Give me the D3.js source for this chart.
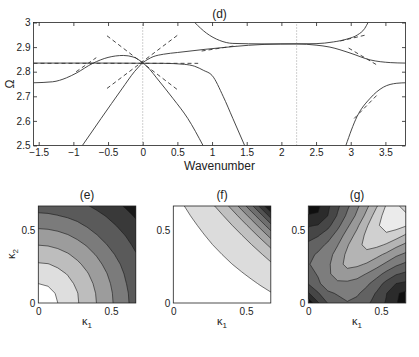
<!DOCTYPE html>
<html>
<head>
<meta charset="utf-8">
<script src="https://cdn.jsdelivr.net/npm/d3@7"></script>
<style>
body { margin: 0; background: #fff; }
svg text { font-family: "Liberation Sans", Arial, sans-serif; fill: #222; }
</style>
</head>
<body>
<svg id="fig" width="419" height="357"></svg>
<script>
// ---- panel (d): dispersion curves ----
var xTicks = [-1.5, -1, -0.5, 0, 0.5, 1, 1.5, 2, 2.5, 3, 3.5];
var xTickLabels = ["\u22121.5", "\u22121", "\u22120.5", "0", "0.5", "1", "1.5", "2", "2.5", "3", "3.5"];
var yTicks = [2.5, 2.6, 2.7, 2.8, 2.9, 3];
var yTickLabels = ["2.5", "2.6", "2.7", "2.8", "2.9", "3"];
var dottedAt = [0, 2.22];

var bandA = [[-1.575, 2.755], [-1.3, 2.759], [-1.1, 2.775], [-0.96, 2.794], [-0.72, 2.834], [-0.5, 2.858], [-0.28, 2.866], [-0.14, 2.86], [0, 2.837]];
var bandB = [[0, 2.837], [0.1, 2.81], [0.2, 2.775], [0.44, 2.69], [0.65, 2.61], [0.87, 2.5]];
var bandC = [[-0.87, 2.5], [-0.6, 2.61], [-0.3, 2.73], [-0.12, 2.8], [0, 2.837]];
var bandD = [[0, 2.837], [0.15, 2.861], [0.3, 2.871], [0.5, 2.878], [0.9, 2.891], [1.3, 2.902], [1.75, 2.911], [2.22, 2.913], [2.5, 2.908], [2.7, 2.9], [2.99, 2.876], [3.28, 2.848], [3.57, 2.837], [3.79, 2.835]];
var bandE = [[0.75, 3.0], [0.918, 2.957], [1.11, 2.927], [1.3, 2.915], [1.75, 2.913], [2.22, 2.913], [2.5, 2.914], [2.75, 2.921], [2.95, 2.933], [3.1, 2.95], [3.2, 2.975], [3.25, 3.0]];
var bandF = [[-1.575, 2.835], [-0.5, 2.835], [0.3, 2.834], [0.6, 2.83], [0.75, 2.822], [0.88, 2.805], [1.0, 2.785], [1.16, 2.7], [1.3, 2.61], [1.47, 2.5]];
var bandG = [[2.93, 2.5], [3.09, 2.617], [3.28, 2.692], [3.47, 2.737], [3.665, 2.753], [3.79, 2.755]];

var dashed = [
  [[-1.575, 2.834], [0.8, 2.834]],
  [[-0.515, 2.946], [0.51, 2.725]],
  [[-0.515, 2.732], [0.51, 2.95]],
  [[-0.96, 2.80], [-0.67, 2.857]],
  [[0.85, 2.884], [1.35, 2.906]],
  [[2.85, 2.925], [3.2, 2.948]],
  [[2.97, 2.896], [3.38, 2.827]],
  [[3.05, 2.61], [3.38, 2.705]]
];

// ---- panels (e), (f), (g): contour grids, rows k2 = 0..0.67, cols k1 = 0..0.67 ----
var kTicks = [0, 0.5];
var kTickLabels = ["0", "0.5"];

var gridE = [
  [0, 0.5, 1, 1.46, 1.92, 2.46, 3.02, 3.60, 4.20, 4.84, 5.37],
  [0.5, 0.71, 1.11, 1.53, 1.97, 2.51, 3.07, 3.64, 4.24, 4.88, 5.39],
  [1, 1.11, 1.38, 1.74, 2.16, 2.67, 3.21, 3.76, 4.36, 4.98, 5.46],
  [1.46, 1.53, 1.74, 2.04, 2.46, 2.92, 3.43, 3.96, 4.55, 5.12, 5.58],
  [1.92, 1.97, 2.16, 2.46, 2.83, 3.25, 3.72, 4.24, 4.80, 5.29, 5.74],
  [2.46, 2.51, 2.67, 2.92, 3.25, 3.64, 4.08, 4.58, 5.09, 5.51, 5.94],
  [3.02, 3.07, 3.21, 3.43, 3.72, 4.08, 4.51, 4.98, 5.37, 5.76, 6.19],
  [3.60, 3.64, 3.76, 3.96, 4.24, 4.58, 4.98, 5.32, 5.67, 6.05, 6.47],
  [4.20, 4.24, 4.36, 4.55, 4.80, 5.09, 5.37, 5.67, 6.01, 6.38, 6.78],
  [4.84, 4.88, 4.98, 5.12, 5.29, 5.51, 5.76, 6.05, 6.38, 6.74, 7.11],
  [5.37, 5.39, 5.46, 5.58, 5.74, 5.94, 6.19, 6.47, 6.78, 7.11, 7.46]
];
var levelsE = [1, 2, 3, 4, 5, 6, 7];

var gridF = [
  [0, 0.10, 0.19, 0.27, 0.34, 0.41, 0.47, 0.53, 0.58, 0.62, 0.65],
  [0.10, 0.20, 0.30, 0.39, 0.47, 0.54, 0.61, 0.67, 0.73, 0.78, 0.96],
  [0.19, 0.30, 0.40, 0.50, 0.59, 0.67, 0.74, 0.81, 0.87, 1.07, 1.27],
  [0.27, 0.39, 0.50, 0.60, 0.70, 0.79, 0.87, 0.94, 1.15, 1.36, 1.56],
  [0.34, 0.47, 0.59, 0.70, 0.80, 0.90, 0.99, 1.21, 1.43, 1.64, 1.85],
  [0.41, 0.54, 0.67, 0.79, 0.90, 1.00, 1.24, 1.48, 1.70, 1.92, 2.47],
  [0.47, 0.61, 0.74, 0.87, 0.99, 1.24, 1.49, 1.73, 1.97, 2.53, 3.27],
  [0.53, 0.67, 0.81, 0.94, 1.21, 1.48, 1.73, 1.98, 2.56, 3.32, 4.41],
  [0.58, 0.73, 0.87, 1.15, 1.43, 1.70, 1.97, 2.56, 3.33, 4.44, 5.70],
  [0.62, 0.78, 1.07, 1.36, 1.64, 1.92, 2.53, 3.32, 4.44, 5.71, 7.40],
  [0.65, 0.96, 1.27, 1.56, 1.85, 2.47, 3.27, 4.41, 5.70, 7.40, 9.00]
];
var levelsF = [1, 2, 3, 4, 5, 6, 7, 8];

var gridG = [
  [0.2, 1.9, 3.05, 3.6, 3.92, 3.7, 3.2, 2.6, 1.9, 1.1, 0.3],
  [1.9, 2.9, 3.8, 4.1, 4.4, 4.15, 3.6, 2.9, 2.05, 1.1, 0.8],
  [3.05, 3.8, 4.6, 4.7, 4.8, 4.6, 4.2, 3.5, 2.7, 2.0, 1.8],
  [3.6, 4.1, 4.7, 5.7, 5.6, 5.4, 4.95, 4.4, 3.7, 3.1, 2.8],
  [3.92, 4.4, 4.8, 5.6, 6.3, 6.2, 5.9, 5.4, 4.8, 4.2, 3.8],
  [3.7, 4.15, 4.6, 5.4, 6.2, 6.8, 6.7, 6.3, 5.8, 5.2, 4.8],
  [3.2, 3.6, 4.2, 4.95, 5.9, 6.7, 7.3, 7.25, 6.9, 6.3, 5.8],
  [2.6, 2.9, 3.5, 4.4, 5.4, 6.3, 7.25, 7.85, 7.8, 7.5, 6.9],
  [1.9, 2.05, 2.7, 3.7, 4.8, 5.8, 6.9, 7.8, 8.5, 8.4, 8.1],
  [1.1, 1.1, 2.0, 3.1, 4.2, 5.2, 6.3, 7.5, 8.4, 8.6, 8.2],
  [0.3, 0.8, 1.8, 2.8, 3.8, 4.8, 5.8, 6.9, 8.1, 8.2, 7.6]
];
var levelsG = [1, 2, 3, 4, 5, 6, 7, 8];

var svg = d3.select("#fig");

// ===== top plot =====
var x = d3.scaleLinear().domain([-1.575, 3.79]).range([33.5, 405.5]);
var y = d3.scaleLinear().domain([2.5, 3]).range([145.5, 22.5]);

var defs = svg.append("defs");
defs.append("clipPath").attr("id", "clip-d")
  .append("rect")
    .attr("x", x.range()[0]).attr("y", y.range()[1])
    .attr("width", x.range()[1] - x.range()[0])
    .attr("height", y.range()[0] - y.range()[1]);

var plot = svg.append("g").attr("clip-path", "url(#clip-d)");

plot.selectAll(".dotted")
    .data(dottedAt)
  .enter().append("line")
    .attr("x1", function(d) { return x(d); })
    .attr("x2", function(d) { return x(d); })
    .attr("y1", y(2.5)).attr("y2", y(3))
    .attr("stroke", "#888").attr("stroke-width", 0.8)
    .attr("stroke-dasharray", "1,2");

var line = d3.line()
    .x(function(d) { return x(d[0]); })
    .y(function(d) { return y(d[1]); })
    .curve(d3.curveMonotoneX);

plot.selectAll(".band")
    .data([bandA, bandB, bandC, bandD, bandE, bandF, bandG])
  .enter().append("path")
    .attr("d", line)
    .attr("fill", "none")
    .attr("stroke", "#333")
    .attr("stroke-width", 0.9);

plot.selectAll(".dash")
    .data(dashed)
  .enter().append("path")
    .attr("d", d3.line().x(function(d) { return x(d[0]); }).y(function(d) { return y(d[1]); }))
    .attr("fill", "none")
    .attr("stroke", "#333")
    .attr("stroke-width", 0.9)
    .attr("stroke-dasharray", "4,3");

function styleAxis(g) {
  g.select(".domain").remove();
  g.selectAll("line").attr("stroke", "#222").attr("stroke-width", 0.8);
  g.selectAll("text").attr("font-size", 10).attr("font-family", null).attr("fill", "#222");
}

svg.append("g").attr("transform", "translate(0," + y(2.5) + ")")
    .call(d3.axisBottom(x).tickValues(xTicks).tickSize(-3.5).tickPadding(3)
      .tickFormat(function(d, i) { return xTickLabels[i]; }))
    .call(styleAxis);
svg.append("g").attr("transform", "translate(0," + y(3) + ")")
    .call(d3.axisTop(x).tickValues(xTicks).tickSize(-3.5).tickFormat(""))
    .call(styleAxis);
svg.append("g").attr("transform", "translate(" + x.range()[0] + ",0)")
    .call(d3.axisLeft(y).tickValues(yTicks).tickSize(-3.5).tickPadding(3)
      .tickFormat(function(d, i) { return yTickLabels[i]; }))
    .call(styleAxis);
svg.append("g").attr("transform", "translate(" + x.range()[1] + ",0)")
    .call(d3.axisRight(y).tickValues(yTicks).tickSize(-3.5).tickFormat(""))
    .call(styleAxis);

svg.append("rect")
    .attr("x", x.range()[0]).attr("y", y.range()[1])
    .attr("width", x.range()[1] - x.range()[0])
    .attr("height", y.range()[0] - y.range()[1])
    .attr("fill", "none").attr("stroke", "#222").attr("stroke-width", 0.8);

var midX = (x.range()[0] + x.range()[1]) / 2;
svg.append("text").attr("x", midX).attr("y", 17.5)
    .attr("text-anchor", "middle").attr("font-size", 12).text("(d)");
svg.append("text").attr("x", midX).attr("y", 169.5)
    .attr("text-anchor", "middle").attr("font-size", 12).text("Wavenumber");
svg.append("text")
    .attr("transform", "translate(14," + (y.range()[0] + y.range()[1]) / 2 + ") rotate(-90)")
    .attr("text-anchor", "middle").attr("font-size", 12).text("\u03A9");

// ===== contour panels =====
var step = 0.067, n = 11;
var panels = [
  {id: "e", left: 38.3, grid: gridE, levels: levelsE, grays: [255, 222, 189, 156, 123, 90, 57, 24], ylab: true},
  {id: "f", left: 173.3, grid: gridF, levels: levelsF, grays: [255, 220, 192, 165, 138, 110, 82, 55, 25], ylab: false},
  {id: "g", left: 308.3, grid: gridG, levels: levelsG, grays: [15, 43, 70, 98, 125, 153, 180, 208, 235], ylab: false}
];

panels.forEach(function(p) {
  var xs = d3.scaleLinear().domain([0, 0.67]).range([p.left, p.left + 97.5]);
  var ys = d3.scaleLinear().domain([0, 0.67]).range([303, 206]);
  var gray = function(v) { return d3.rgb(v, v, v).toString(); };

  defs.append("clipPath").attr("id", "clip-" + p.id)
    .append("rect")
      .attr("x", xs(0)).attr("y", ys(0.67))
      .attr("width", xs(0.67) - xs(0)).attr("height", ys(0) - ys(0.67));

  var g = svg.append("g").attr("clip-path", "url(#clip-" + p.id + ")");
  g.append("rect")
      .attr("x", xs(0)).attr("y", ys(0.67))
      .attr("width", xs(0.67) - xs(0)).attr("height", ys(0) - ys(0.67))
      .attr("fill", gray(p.grays[0]));

  var contours = d3.contours().size([n, n]).thresholds(p.levels)(d3.merge(p.grid));
  var proj = d3.geoTransform({
    point: function(cx, cy) { this.stream.point(xs((cx - 0.5) * step), ys((cy - 0.5) * step)); }
  });
  var path = d3.geoPath(proj);

  g.selectAll("path")
      .data(contours)
    .enter().append("path")
      .attr("d", path)
      .attr("fill", function(d, i) { return gray(p.grays[i + 1]); })
      .attr("stroke", "#1a1a1a")
      .attr("stroke-width", 0.6)
      .attr("stroke-linejoin", "round");

  svg.append("rect")
      .attr("x", xs(0)).attr("y", ys(0.67))
      .attr("width", xs(0.67) - xs(0)).attr("height", ys(0) - ys(0.67))
      .attr("fill", "none").attr("stroke", "#222").attr("stroke-width", 0.8);

  svg.append("g").attr("transform", "translate(0,303)")
      .call(d3.axisBottom(xs).tickValues(kTicks).tickSize(0).tickPadding(5)
        .tickFormat(function(d, i) { return kTickLabels[i]; }))
      .call(styleAxis);
  svg.append("g").attr("transform", "translate(" + xs(0) + ",0)")
      .call(d3.axisLeft(ys).tickValues(kTicks).tickSize(0).tickPadding(3)
        .tickFormat(function(d, i) { return kTickLabels[i]; }))
      .call(styleAxis);

  var cx = (xs(0) + xs(0.67)) / 2;
  svg.append("text").attr("x", cx).attr("y", 199)
      .attr("text-anchor", "middle").attr("font-size", 12).text("(" + p.id + ")");

  var k1 = svg.append("text").attr("x", cx).attr("y", 325)
      .attr("text-anchor", "middle").attr("font-size", 11);
  k1.append("tspan").text("\u03BA");
  k1.append("tspan").attr("font-size", 8).attr("dy", 3).text("1");

  if (p.ylab) {
    var k2 = svg.append("text")
        .attr("transform", "translate(15,254) rotate(-90)")
        .attr("text-anchor", "middle").attr("font-size", 11);
    k2.append("tspan").text("\u03BA");
    k2.append("tspan").attr("font-size", 8).attr("dy", 3).text("2");
  }
});
</script>
</body>
</html>
